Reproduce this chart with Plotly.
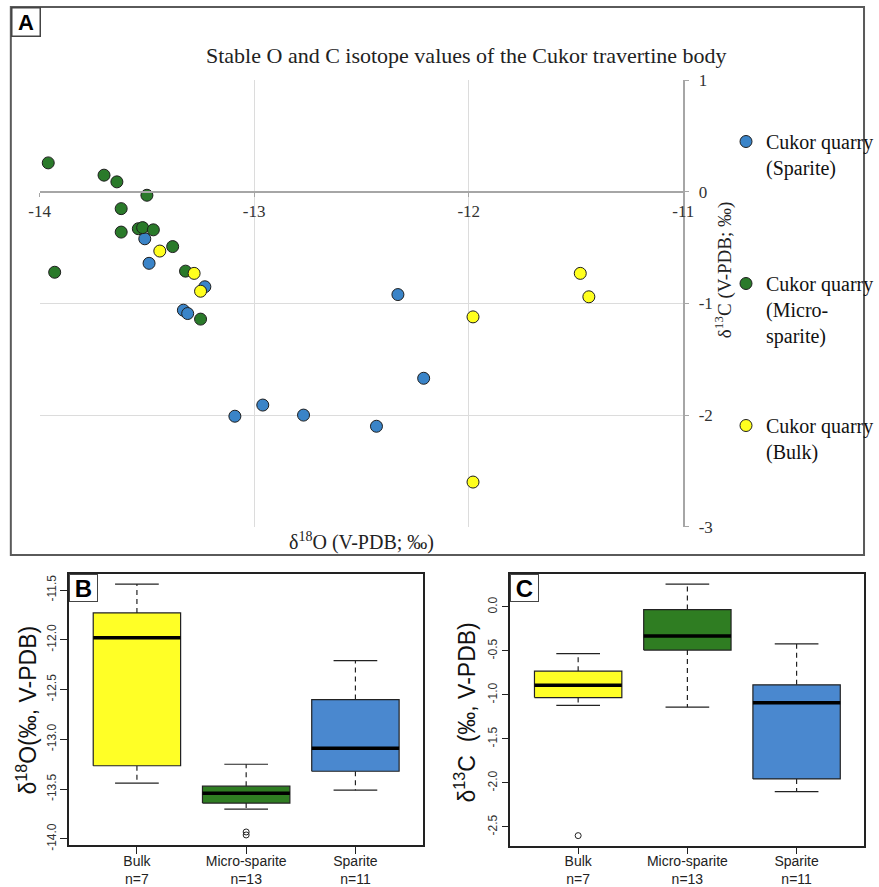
import numpy as np
import plotly.graph_objects as go

W, H = 879, 887

# ---------------- data ----------------
groups = ["Bulk", "Micro-sparite", "Sparite"]

sparite_d18O = [-13.51, -13.49, -13.23, -13.33, -13.31, -12.33, -12.21, -13.09, -12.96, -12.77, -12.43]
sparite_d13C = [-0.42, -0.64, -0.85, -1.06, -1.09, -0.92, -1.67, -2.01, -1.91, -2.00, -2.10]

micro_d18O = [-13.96, -13.70, -13.64, -13.50, -13.62, -13.62, -13.54, -13.52, -13.47, -13.38, -13.93, -13.32, -13.25]
micro_d13C = [0.26, 0.15, 0.09, -0.03, -0.15, -0.36, -0.33, -0.32, -0.34, -0.49, -0.72, -0.71, -1.14]

bulk_d18O = [-13.44, -13.28, -13.25, -11.98, -11.98, -11.48, -11.44]
bulk_d13C = [-0.53, -0.73, -0.89, -1.12, -2.60, -0.73, -0.94]

a_xticks = [-14, -13, -12, -11]
a_yticks = [1, 0, -1, -2, -3]
b_yticks = [-11.5, -12.0, -12.5, -13.0, -13.5, -14.0]
c_yticks = [0.0, -0.5, -1.0, -1.5, -2.0, -2.5]

scatter_colors = {"Sparite": "#3a84c8", "Micro-sparite": "#2a7a2a", "Bulk": "#ffff1e"}
box_colors = {"Bulk": "#ffff26", "Micro-sparite": "#2f7d22", "Sparite": "#4a88cf"}

SERIF = "Liberation Serif"
SANS = "Liberation Sans"


def pxx(x):
    return x / W


def pxy(y):
    return 1 - y / H


fig = go.Figure()

# ---------------- Panel A: scatter ----------------
series = [
    ("Sparite", "Cukor quarry<br>(Sparite)", sparite_d18O, sparite_d13C, "legend"),
    ("Micro-sparite", "Cukor quarry<br>(Micro-<br>sparite)", micro_d18O, micro_d13C, "legend2"),
    ("Bulk", "Cukor quarry<br>(Bulk)", bulk_d18O, bulk_d13C, "legend3"),
]
for key, name, xs, ys, lg in series:
    fig.add_trace(go.Scatter(
        x=xs, y=ys, mode="markers", name=name, legend=lg,
        marker=dict(size=12, color=scatter_colors[key], line=dict(color="#1e1e1e", width=1)),
        xaxis="x", yaxis="y", cliponaxis=False,
    ))


# ---------------- Panels B, C: R-style boxplots ----------------
def fivenum(vals):
    v = np.sort(np.asarray(vals, float))
    n = len(v)
    n4 = np.floor((n + 3) / 2) / 2
    d = np.array([1, n4, (n + 1) / 2, n + 1 - n4, n]) - 1
    return 0.5 * (v[np.floor(d).astype(int)] + v[np.ceil(d).astype(int)])


def add_box(vals, pos, color, xa, ya):
    v = np.sort(np.asarray(vals, float))
    f = fivenum(v)
    lo, med, hi = f[1], f[2], f[3]
    iqr = hi - lo
    inside = v[(v >= lo - 1.5 * iqr) & (v <= hi + 1.5 * iqr)]
    out = v[(v < lo - 1.5 * iqr) | (v > hi + 1.5 * iqr)]
    wlo, whi = inside.min(), inside.max()
    hw, cw = 0.4, 0.2
    common = dict(xaxis=xa, yaxis=ya, showlegend=False, hoverinfo="skip")
    fig.add_trace(go.Scatter(x=[pos, pos, None, pos, pos], y=[hi, whi, None, lo, wlo], mode="lines",
                             line=dict(color="#222", width=1.2, dash="5px,4px"), **common))
    fig.add_trace(go.Scatter(x=[pos - cw, pos + cw, None, pos - cw, pos + cw], y=[whi, whi, None, wlo, wlo],
                             mode="lines", line=dict(color="#222", width=1.2), **common))
    fig.add_trace(go.Scatter(x=[pos - hw, pos + hw, pos + hw, pos - hw, pos - hw], y=[lo, lo, hi, hi, lo],
                             mode="lines", fill="toself", fillcolor=color,
                             line=dict(color="#222", width=1.2), **common))
    fig.add_trace(go.Scatter(x=[pos - hw, pos + hw], y=[med, med], mode="lines",
                             line=dict(color="black", width=3.5), **common))
    if len(out):
        fig.add_trace(go.Scatter(x=[pos] * len(out), y=out, mode="markers",
                                 marker=dict(symbol="circle-open", size=6, color="#222", line=dict(width=1)),
                                 **common))


d18O = {"Bulk": bulk_d18O, "Micro-sparite": micro_d18O, "Sparite": sparite_d18O}
d13C = {"Bulk": bulk_d13C, "Micro-sparite": micro_d13C, "Sparite": sparite_d13C}
for i, g in enumerate(groups):
    add_box(d18O[g], i, box_colors[g], "x2", "y2")
    add_box(d13C[g], i, box_colors[g], "x3", "y3")


def rrange(vals):
    a = np.concatenate([np.asarray(v, float) for v in vals])
    span = a.max() - a.min()
    return [a.min() - 0.04 * span, a.max() + 0.04 * span]


tick_text = [f"{g}<br>n={len(d18O[g])}" for g in groups]

# ---------------- layout ----------------
A_dom_x = [pxx(40.3), pxx(694.3)]
A_dom_y = [pxy(526.7), pxy(80.3)]
A_yrange = [-3, 1]
zero_pos = A_dom_y[0] + (0 - A_yrange[0]) / (A_yrange[1] - A_yrange[0]) * (A_dom_y[1] - A_dom_y[0])

box_x_axis = dict(range=[-0.62, 2.62], tickvals=[0, 1, 2], ticktext=tick_text, showgrid=False, zeroline=False,
                  showline=True, linecolor="#222", linewidth=1.5, mirror=True, ticks="outside", ticklen=7,
                  tickcolor="#222", automargin=False, ticklabelstandoff=-5,
                  tickfont=dict(family=SANS, size=14, color="#222"))


def box_y_axis(ticks, rng):
    return dict(range=rng, tickvals=ticks, ticktext=[f"{t:.1f}" for t in ticks], tickangle=-90,
                showgrid=False, zeroline=False, showline=True, linecolor="#222", linewidth=1.5, mirror=True,
                ticks="outside", ticklen=7, tickcolor="#222", automargin=False,
                tickfont=dict(family=SANS, size=12, color="#333"))


B_dom_x = [pxx(70.3), pxx(430)]
B_dom_y = [pxy(845), pxy(574)]
C_dom_x = [pxx(518.7), pxx(878.3)]
C_dom_y = [pxy(845.7), pxy(574)]

legend_common = dict(xanchor="left", yanchor="top", valign="top", bgcolor="rgba(0,0,0,0)",
                     font=dict(family=SERIF, size=20, color="#111"))

fig.update_layout(
    width=W, height=H, autosize=False,
    margin=dict(l=0, r=0, t=0, b=0, pad=0),
    paper_bgcolor="white", plot_bgcolor="white",
    xaxis=dict(domain=A_dom_x, range=[-14, -11], tickvals=a_xticks, ticktext=[str(t) for t in a_xticks],
               anchor="free", position=zero_pos, showline=True, linecolor="#a6a6a6", linewidth=2,
               showgrid=True, gridcolor="#dcdcdc", gridwidth=1, zeroline=False, automargin=False,
               ticks="outside", ticklen=4, tickcolor="#a6a6a6",
               tickfont=dict(family=SERIF, size=17, color="#333")),
    yaxis=dict(domain=A_dom_y, range=A_yrange, tickvals=a_yticks, ticktext=[str(t) for t in a_yticks],
               anchor="x", side="right", showline=True, linecolor="#a6a6a6", linewidth=2,
               showgrid=True, gridcolor="#dcdcdc", gridwidth=1, zeroline=False, automargin=False,
               ticks="outside", ticklen=4, tickcolor="#a6a6a6", ticklabelstandoff=6,
               tickfont=dict(family=SERIF, size=17, color="#333")),
    xaxis2=dict(domain=B_dom_x, anchor="y2", **box_x_axis),
    yaxis2=dict(domain=B_dom_y, anchor="x2", **box_y_axis(b_yticks, rrange(list(d18O.values())))),
    xaxis3=dict(domain=C_dom_x, anchor="y3", **box_x_axis),
    yaxis3=dict(domain=C_dom_y, anchor="x3", **box_y_axis(c_yticks, rrange(list(d13C.values())))),
    legend=dict(x=pxx(738), y=pxy(122), **legend_common),
    legend2=dict(x=pxx(738), y=pxy(264), **legend_common),
    legend3=dict(x=pxx(738), y=pxy(406), **legend_common),
    shapes=[
        dict(type="rect", xref="paper", yref="paper", x0=pxx(11), x1=pxx(878), y0=pxy(555), y1=pxy(7),
             line=dict(color="#5a5a5a", width=2), fillcolor="rgba(0,0,0,0)", layer="above"),
    ],
    annotations=[
        dict(text="Stable O and C isotope values of the Cukor travertine body", x=pxx(474), y=pxy(55),
             xref="paper", yref="paper", xanchor="center", yanchor="middle", showarrow=False,
             font=dict(family=SERIF, size=22, color="#222")),
        dict(text="δ<sup>18</sup>O (V-PDB; ‰)", x=pxx(367), y=pxy(541), xref="paper", yref="paper",
             xanchor="center", yanchor="middle", showarrow=False, font=dict(family=SERIF, size=20, color="#222")),
        dict(text="δ<sup>13</sup>C (V-PDB; ‰)", x=pxx(736), y=pxy(270), xref="paper", yref="paper",
             xanchor="center", yanchor="middle", textangle=-90, showarrow=False,
             font=dict(family=SERIF, size=19, color="#222")),
        dict(text="<b>A</b>", x=pxx(11), y=pxy(7), xref="paper", yref="paper", xanchor="left", yanchor="top",
             showarrow=False, width=25, height=25, borderwidth=1.5, bordercolor="#444", borderpad=1,
             bgcolor="white", font=dict(family=SANS, size=22, color="black")),
        dict(text="<b>B</b>", x=pxx(70.3), y=pxy(574), xref="paper", yref="paper", xanchor="left", yanchor="top",
             showarrow=False, width=25, height=24, borderwidth=1, bordercolor="#444", borderpad=1,
             bgcolor="white", font=dict(family=SANS, size=24, color="black")),
        dict(text="<b>C</b>", x=pxx(518.7), y=pxy(574), xref="paper", yref="paper", xanchor="left", yanchor="top",
             showarrow=False, width=25, height=24, borderwidth=1, bordercolor="#444", borderpad=1,
             bgcolor="white", font=dict(family=SANS, size=24, color="black")),
        dict(text="δ<sup>18</sup>O(‰, V-PDB)", x=pxx(27), y=pxy(710), xref="paper", yref="paper",
             xanchor="center", yanchor="middle", textangle=-90, showarrow=False,
             font=dict(family=SANS, size=23, color="#111")),
        dict(text="δ<sup>13</sup>C\u00a0\u00a0(‰, V-PDB)", x=pxx(473), y=pxy(712), xref="paper", yref="paper",
             xanchor="center", yanchor="middle", textangle=-90, showarrow=False,
             font=dict(family=SANS, size=23, color="#111")),
    ],
)

fig.write_html("out.html")
